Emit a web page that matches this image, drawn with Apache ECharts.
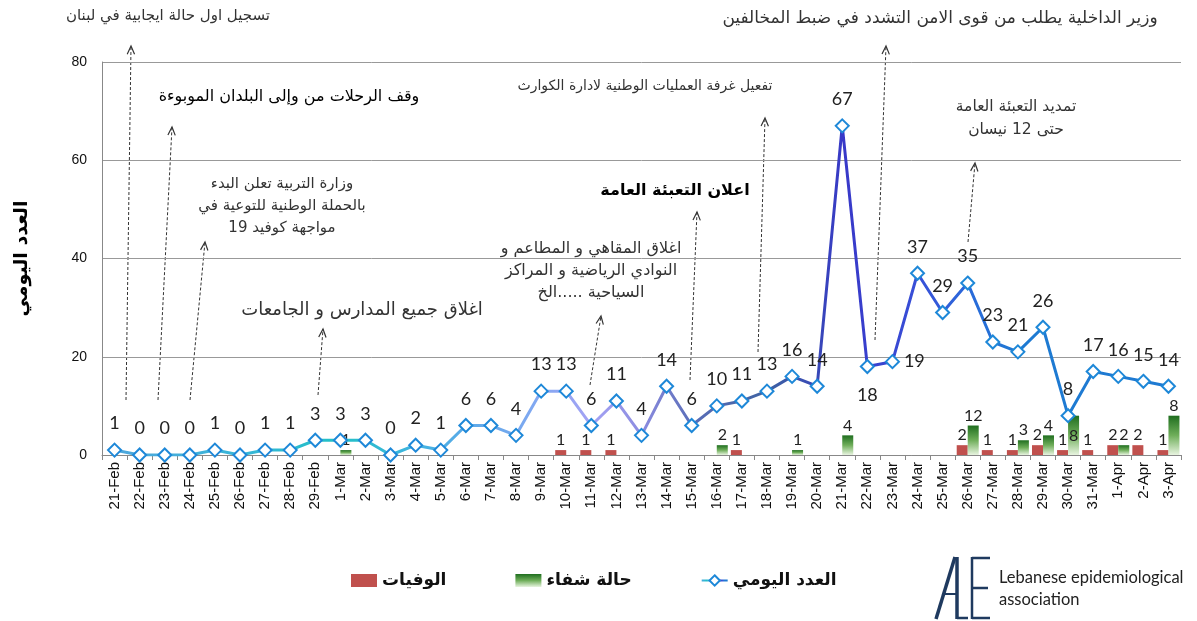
<!DOCTYPE html>
<html><head><meta charset="utf-8">
<script src="https://cdn.jsdelivr.net/npm/echarts@6/dist/echarts.min.js"></script>
<style>html,body{margin:0;padding:0;background:#fff}#c{width:1197px;height:621px}</style>
</head><body><div id="c"></div>
<script>
const categories = ['21-Feb','22-Feb','23-Feb','24-Feb','25-Feb','26-Feb','27-Feb','28-Feb','29-Feb',
  '1-Mar','2-Mar','3-Mar','4-Mar','5-Mar','6-Mar','7-Mar','8-Mar','9-Mar','10-Mar','11-Mar','12-Mar',
  '13-Mar','14-Mar','15-Mar','16-Mar','17-Mar','18-Mar','19-Mar','20-Mar','21-Mar','22-Mar','23-Mar',
  '24-Mar','25-Mar','26-Mar','27-Mar','28-Mar','29-Mar','30-Mar','31-Mar','1-Apr','2-Apr','3-Apr'];
const dailyCases = [1,0,0,0,1,0,1,1,3,
  3,3,0,2,1,6,6,4,13,13,6,11,
  4,14,6,10,11,13,16,14,67,18,19,
  37,29,35,23,21,26,8,17,16,15,14];
const deaths = [null,null,null,null,null,null,null,null,null,
  null,null,null,null,null,null,null,null,null,1,1,1,
  null,null,null,null,1,null,null,null,null,null,null,
  null,null,2,1,1,2,1,1,2,2,1];
const recoveries = [null,null,null,null,null,null,null,null,null,
  1,null,null,null,null,null,null,null,null,null,null,null,
  null,null,null,2,null,null,1,null,4,null,null,
  null,null,6,null,3,4,8,null,2,null,8];
// the printed label differs from the bar height on 26-Mar in the source chart
const recoveryLabelOverride = {'26-Mar': '12'};
const yTicks = [0, 20, 40, 60, 80];
const seriesNames = ['الوفيات', 'حالة شفاء', 'العدد اليومي'];
const yAxisTitle = 'العدد اليومي';

const chart = echarts.init(document.getElementById('c'), null, {renderer: 'canvas'});

const lineLabelPos = {'22-Mar': 'bottom', '23-Mar': 'right'};
const greenLabelPos = {'30-Mar': 'inside'};

const arabicFont = '"DejaVu Sans", "Noto Sans", sans-serif';
const numFont = 'Lato, "Open Sans", sans-serif';

function note(text, x, y, size, opts) {
  opts = opts || {};
  return {
    type: 'text', x: x, y: y, z: 50,
    style: {
      text: text,
      font: (opts.bold ? 'bold ' : '') + size + 'px ' + arabicFont,
      fill: opts.fill || '#333',
      align: 'center', verticalAlign: 'middle',
      lineHeight: opts.lh || Math.round(size * 1.6)
    }
  };
}
function arrow(x1, y1, x2, y2) {
  const dx = x2 - x1, dy = y2 - y1, L = Math.sqrt(dx*dx + dy*dy);
  const ux = dx / L, uy = dy / L, h = 9, a = 0.42;
  const c = Math.cos(a), s = Math.sin(a);
  const p1 = [x2 - h*(ux*c - uy*s), y2 - h*(uy*c + ux*s)];
  const p2 = [x2 - h*(ux*c + uy*s), y2 - h*(uy*c - ux*s)];
  return {
    type: 'group', z: 50,
    children: [
      {type: 'line', shape: {x1: x1, y1: y1, x2: x2, y2: y2}, style: {stroke: '#333', lineWidth: 1, lineDash: [3, 2]}},
      {type: 'polyline', shape: {points: [p1, [x2, y2], p2]}, style: {stroke: '#333', lineWidth: 1.2, fill: null}}
    ]
  };
}

const lineGradient = new echarts.graphic.LinearGradient(0, 0, 1, 0, [
  {offset: 0/42, color: '#4FA6DC'},
  {offset: 5/42, color: '#38B6D8'},
  {offset: 9/42, color: '#22C0C6'},
  {offset: 12/42, color: '#40B4E0'},
  {offset: 14/42, color: '#5AAAE8'},
  {offset: 17/42, color: '#84A8F2'},
  {offset: 19/42, color: '#A4A2F4'},
  {offset: 21/42, color: '#8C8CE0'},
  {offset: 23/42, color: '#5A6EB8'},
  {offset: 26/42, color: '#3E62A2'},
  {offset: 28/42, color: '#3848B8'},
  {offset: 29/42, color: '#3838C8'},
  {offset: 32/42, color: '#3850D8'},
  {offset: 34/42, color: '#2A6ADA'},
  {offset: 36/42, color: '#1E7AD2'},
  {offset: 1, color: '#1E7AD2'}
]);
const greenGradient = new echarts.graphic.LinearGradient(0, 0, 0, 1, [
  {offset: 0, color: '#1F6E1F'},
  {offset: 0.5, color: '#6FAE5A'},
  {offset: 1, color: '#E8F4E0'}
]);

const option = {
  animation: false,
  backgroundColor: '#fff',
  grid: {left: 102, right: 16, top: 62, bottom: 166, containLabel: false},
  legend: {
    data: [
      {name: seriesNames[0], icon: 'rect'},
      {name: seriesNames[1], icon: 'rect'},
      {name: seriesNames[2]}
    ],
    left: 346, top: 567, itemGap: 69, itemWidth: 26, itemHeight: 13,
    textStyle: {fontFamily: arabicFont, fontWeight: 'bold', fontSize: 17, color: '#111'}
  },
  xAxis: {
    type: 'category', data: categories, boundaryGap: true,
    axisLine: {lineStyle: {color: '#888', width: 1}},
    axisTick: {show: true, length: 5, lineStyle: {color: '#888'}},
    axisLabel: {rotate: 90, fontSize: 15, color: '#111', fontFamily: '"Liberation Sans", Arial, sans-serif', margin: 7, interval: 0}
  },
  yAxis: {
    type: 'value', min: yTicks[0], max: yTicks[yTicks.length - 1], interval: 20,
    name: yAxisTitle, nameLocation: 'middle', nameGap: 70, nameRotate: 90,
    nameTextStyle: {fontFamily: arabicFont, fontWeight: 'bold', fontSize: 19, color: '#000'},
    axisLine: {show: true, lineStyle: {color: '#888'}},
    axisTick: {show: false},
    axisLabel: {fontSize: 14, color: '#111', fontFamily: '"Liberation Sans", Arial, sans-serif', margin: 15},
    splitLine: {lineStyle: {color: '#999', width: 1}}
  },
  series: [
    {
      name: seriesNames[0], type: 'bar', data: deaths, barWidth: 11, barGap: '0%',
      itemStyle: {color: '#C0504D'},
      label: {show: true, position: 'top', distance: 2, fontFamily: numFont, fontSize: 16, color: '#222'},
      z: 2
    },
    {
      name: seriesNames[1], type: 'bar', barWidth: 11, barGap: '0%',
      data: recoveries.map((v, i) => v == null ? null : {
        value: v,
        label: {
          position: greenLabelPos[categories[i]] || 'top',
          formatter: recoveryLabelOverride[categories[i]] || String(v)
        }
      }),
      itemStyle: {color: greenGradient},
      label: {show: true, position: 'top', distance: 2, fontFamily: numFont, fontSize: 16, color: '#222'},
      z: 2
    },
    {
      name: seriesNames[2], type: 'line',
      data: dailyCases.map((v, i) => lineLabelPos[categories[i]] ? {value: v, label: {position: lineLabelPos[categories[i]], distance: lineLabelPos[categories[i]] === 'bottom' ? 12 : 4}} : v),
      symbol: 'diamond', symbolSize: 13,
      lineStyle: {width: 3, color: lineGradient},
      itemStyle: {color: '#fff', borderColor: '#1E88D8', borderWidth: 2},
      label: {show: true, position: 'top', distance: 10, fontFamily: numFont, fontSize: 18, color: '#222'},
      z: 5
    }
  ],
  graphic: [
    note('تسجيل اول حالة ايجابية في لبنان', 168, 16, 15),
    arrow(126, 400, 131, 46),
    note('وقف الرحلات من وإلى البلدان الموبوءة', 289, 97, 16, {fill: '#000'}),
    arrow(158, 400, 172, 127),
    note('وزارة التربية تعلن البدء\nبالحملة الوطنية للتوعية في\nمواجهة كوفيد 19', 282, 206, 15, {lh: 22}),
    arrow(190, 400, 205, 242),
    note('اغلاق جميع المدارس و الجامعات', 362, 310, 18),
    arrow(318, 395, 323, 329),
    note('اغلاق المقاهي و المطاعم و\nالنوادي الرياضية و المراكز\nالسياحية .....الخ', 591, 271, 16, {lh: 22}),
    arrow(590, 385, 601, 316),
    note('اعلان التعبئة العامة', 675, 191, 16, {bold: true, fill: '#000'}),
    arrow(690, 380, 697, 212),
    note('تفعيل غرفة العمليات الوطنية لادارة الكوارث', 645, 86, 14),
    arrow(758, 352, 765, 118),
    note('وزير الداخلية يطلب من قوى الامن التشدد في ضبط المخالفين', 940, 19, 17),
    arrow(875, 340, 886, 46),
    note('تمديد التعبئة العامة\nحتى 12 نيسان', 1016, 118, 15.5, {lh: 23}),
    arrow(968, 242, 975, 163),
    // logo
    {type: 'group', z: 50, children: [
      {type: 'line', shape: {x1: 936, y1: 619, x2: 955, y2: 557}, style: {stroke: '#1F3A5F', lineWidth: 3.5}},
      {type: 'line', shape: {x1: 957, y1: 557, x2: 957, y2: 619}, style: {stroke: '#1F3A5F', lineWidth: 3.5}},
      {type: 'line', shape: {x1: 945, y1: 594, x2: 957, y2: 594}, style: {stroke: '#1F3A5F', lineWidth: 2}},
      {type: 'line', shape: {x1: 957, y1: 618, x2: 968, y2: 618}, style: {stroke: '#1F3A5F', lineWidth: 2.5}},
      {type: 'line', shape: {x1: 972, y1: 557, x2: 972, y2: 619}, style: {stroke: '#1F3A5F', lineWidth: 2.5}},
      {type: 'line', shape: {x1: 972, y1: 558, x2: 990, y2: 558}, style: {stroke: '#1F3A5F', lineWidth: 2.5}},
      {type: 'line', shape: {x1: 972, y1: 588, x2: 988, y2: 588}, style: {stroke: '#1F3A5F', lineWidth: 2.5}},
      {type: 'line', shape: {x1: 972, y1: 618, x2: 990, y2: 618}, style: {stroke: '#1F3A5F', lineWidth: 2.5}}
    ]},
    {type: 'text', x: 999, y: 578, z: 50, style: {text: 'Lebanese epidemiological', font: '16.5px ' + numFont, fill: '#222', align: 'left', verticalAlign: 'middle'}},
    {type: 'text', x: 999, y: 600, z: 50, style: {text: 'association', font: '16.5px ' + numFont, fill: '#222', align: 'left', verticalAlign: 'middle'}}
  ]
};
chart.setOption(option);
</script>
</body></html>
